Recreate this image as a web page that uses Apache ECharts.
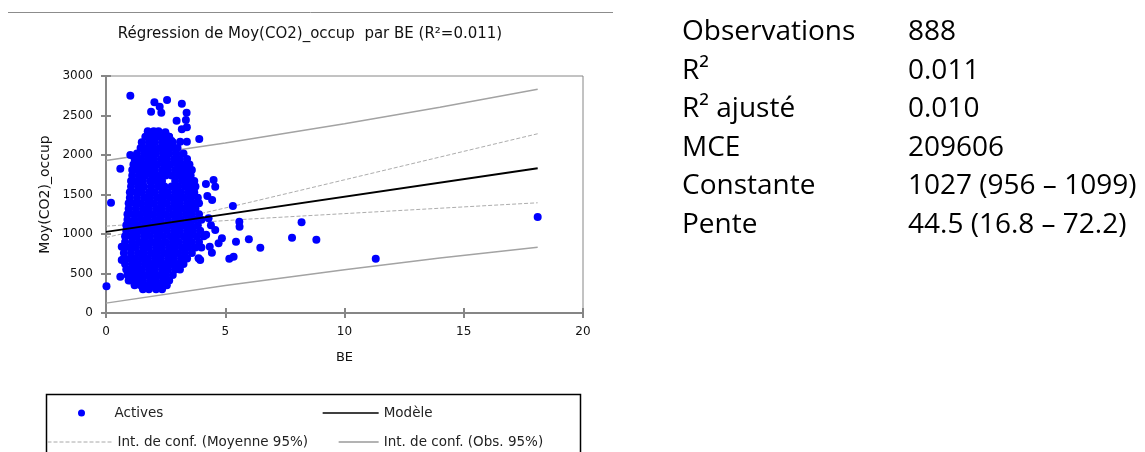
<!DOCTYPE html>
<html><head><meta charset="utf-8">
<script src="https://cdn.jsdelivr.net/npm/echarts@6/dist/echarts.min.js"></script>
<style>html,body{margin:0;padding:0;background:#fff}#c{width:1145px;height:452px}</style>
</head><body><div id="c"></div>
<script>
// ---------- data ----------
const chartTitle = 'Régression de Moy(CO2)_occup  par BE (R²=0.011)';
const xName = 'BE';
const yName = 'Moy(CO2)_occup';

// dense cloud of "Actives": one CO2 level per row, BE values in that row
const blobCO2 = [2300, 2230, 2160, 2090, 2020, 1950, 1880, 1810, 1740, 1670,
                 1600, 1530, 1460, 1390, 1320, 1250, 1180, 1110, 1040, 970,
                 900, 830, 760, 690, 620, 550, 480, 410, 350, 300];
const blobBE = [
  [1.75, 2.0, 2.2],
  [1.65, 1.9, 2.15, 2.4, 2.65],
  [1.5, 1.8, 2.05, 2.35, 2.6, 2.8],
  [1.45, 1.7, 1.95, 2.25, 2.5, 2.75, 3.0],
  [1.3, 1.6, 1.85, 2.1, 2.4, 2.65, 2.95, 3.25],
  [1.2, 1.45, 1.75, 2.0, 2.3, 2.55, 2.85, 3.1, 3.4],
  [1.15, 1.4, 1.65, 1.9, 2.15, 2.45, 2.7, 3.0, 3.25, 3.5],
  [1.1, 1.3, 1.55, 1.8, 2.05, 2.35, 2.6, 2.9, 3.15, 3.4, 3.6],
  [1.1, 1.4, 1.65, 1.95, 2.2, 2.5, 2.75, 3.05, 3.3, 3.55],
  [1.05, 1.3, 1.55, 1.85, 2.1, 2.35, 2.9, 3.2, 3.45, 3.7],
  [1.05, 1.35, 1.6, 1.9, 2.2, 2.45, 2.75, 3.0, 3.3, 3.55, 3.75],
  [1.0, 1.25, 1.5, 1.8, 2.05, 2.35, 2.6, 2.9, 3.15, 3.45, 3.7],
  [1.0, 1.3, 1.6, 1.85, 2.15, 2.4, 2.7, 3.0, 3.25, 3.55, 3.85],
  [0.95, 1.2, 1.45, 1.75, 2.0, 2.3, 2.55, 2.85, 3.1, 3.4, 3.65, 3.9],
  [0.95, 1.25, 1.55, 1.8, 2.1, 2.35, 2.65, 2.95, 3.2, 3.5, 3.75],
  [0.9, 1.15, 1.4, 1.7, 1.95, 2.25, 2.5, 2.8, 3.05, 3.35, 3.6, 3.9],
  [0.9, 1.2, 1.5, 1.75, 2.05, 2.3, 2.6, 2.9, 3.15, 3.45, 3.7, 4.0],
  [0.85, 1.1, 1.35, 1.65, 1.9, 2.2, 2.45, 2.75, 3.0, 3.3, 3.55, 3.85],
  [0.85, 1.15, 1.45, 1.7, 2.0, 2.25, 2.55, 2.85, 3.1, 3.4, 3.65, 3.95],
  [0.8, 1.05, 1.3, 1.6, 1.85, 2.15, 2.4, 2.7, 2.95, 3.25, 3.5, 3.8, 4.1],
  [0.8, 1.1, 1.4, 1.65, 1.95, 2.2, 2.5, 2.8, 3.05, 3.35, 3.6, 3.9],
  [0.75, 1.0, 1.25, 1.55, 1.8, 2.1, 2.35, 2.65, 2.9, 3.2, 3.45, 3.75, 4.0],
  [0.75, 1.05, 1.35, 1.6, 1.9, 2.15, 2.45, 2.75, 3.0, 3.3, 3.6],
  [0.75, 1.0, 1.2, 1.5, 1.75, 2.05, 2.3, 2.6, 2.85, 3.15, 3.4],
  [0.8, 1.1, 1.35, 1.65, 1.9, 2.2, 2.45, 2.75, 3.0, 3.25],
  [0.85, 1.0, 1.25, 1.5, 1.8, 2.05, 2.35, 2.6, 2.9, 3.1],
  [0.9, 1.15, 1.4, 1.7, 1.95, 2.25, 2.5, 2.8],
  [0.95, 1.05, 1.3, 1.55, 1.85, 2.1, 2.4, 2.65],
  [1.2, 1.45, 1.7, 2.0, 2.25, 2.55],
  [1.55, 1.8, 2.1, 2.35]
];
// isolated "Actives" points [BE, CO2]
const outliers = [
  [1.02,2751],[2.03,2667],[2.56,2696],[3.18,2650],[2.25,2612],[1.89,2549],[2.32,2536],
  [3.38,2536],[3.35,2443],[2.96,2435],[3.18,2325],[3.39,2350],[3.91,2203],[2.74,2181],
  [1.87,2274],[2.04,2287],[2.49,2287],[2.64,2232],[3.11,2169],[3.39,2169],[1.02,2000],
  [0.6,1825],[0.21,1397],[0.02,340],[1.09,1658],[4.51,1684],[4.58,1599],[4.19,1633],
  [4.25,1480],[4.45,1430],[5.32,1354],[5.59,1156],[5.6,1093],[5.45,903],[5.99,932],
  [6.47,827],[5.35,713],[5.17,688],[4.58,1051],[4.86,945],[4.72,882],[4.44,764],
  [3.88,692],[3.95,671],[4.3,1200],[4.4,1110],[4.2,990],[4.35,840],[0.66,840],
  [0.66,670],[0.6,460],[7.8,953],[8.2,1148],[8.82,928],[11.31,688],[18.1,1215]
];
// model line and confidence bands [BE, CO2]
const model = [[0,1027],[18.1,1832]];
const meanUpper = [[0,1099],[1,1120],[2.35,1162],[4,1260],[6,1399],[8,1542],[10,1686],[12,1830],[14,1974],[16,2118],[18.1,2269]];
const meanLower = [[0,955],[1,1024],[2.35,1102],[4,1150],[6,1189],[8,1224],[10,1258],[12,1292],[14,1326],[16,1360],[18.1,1395]];
const obsUpper = [[0,1929],[5,2152],[10,2396],[14,2605],[18.1,2831]];
const obsLower = [[0,125],[5,348],[10,548],[14,695],[18.1,833]];

// statistics table
const statLabels = ['Observations', 'R²', 'R² ajusté', 'MCE', 'Constante', 'Pente'];
const statValues = ['888', '0.011', '0.010', '209606', '1027 (956 – 1099)', '44.5 (16.8 – 72.2)'];

const legendNames = ['Actives', 'Modèle', 'Int. de conf. (Moyenne 95%)', 'Int. de conf. (Obs. 95%)'];

// ---------- build ----------
const actives = [];
blobCO2.forEach((c, i) => blobBE[i].forEach(b => actives.push([b, c])));
outliers.forEach(p => actives.push(p));

const F = '"DejaVu Sans", sans-serif';
const GRAY = '#868686';

const graphics = [
  {type:'line', shape:{x1:8, y1:12.5, x2:613, y2:12.5}, style:{stroke:'#8c8c8c', lineWidth:1}},
  {type:'text', x:310, y:34, style:{text:chartTitle, font:'15px ' + F, fill:'#111', align:'center', verticalAlign:'middle'}},
  {type:'rect', shape:{x:46.5, y:394.5, width:534, height:80}, style:{fill:'none', stroke:'#000', lineWidth:1.5}, z:0}
];
statLabels.forEach((t, i) => {
  const y = 32 + i * 38.6;
  graphics.push({type:'text', x:682, y:y, style:{text:t, font:'28px "Open Sans", sans-serif', fill:'#000', verticalAlign:'middle'}});
  graphics.push({type:'text', x:908, y:y, style:{text:statValues[i], font:'28px "Open Sans", sans-serif', fill:'#000', verticalAlign:'middle'}});
});

const legendText = {color:'#222', fontFamily:F, fontSize:13.5, lineHeight:14};
function mkLegend(name, left, top, w, lineStyle) {
  const l = {show:true, data:[name], left:left, top:top, itemWidth:w, itemHeight:7, padding:0,
          selectedMode:false, textStyle:legendText, symbolKeepAspect:true};
  if (lineStyle) { l.itemStyle = {opacity:0}; l.lineStyle = lineStyle; }
  return l;
}

const axisLabel = {color:'#111', fontFamily:F, fontSize:12, formatter: v => String(v)};
const chart = echarts.init(document.getElementById('c'));
chart.setOption({
  animation:false,
  backgroundColor:'#fff',
  grid:{left:106, top:76, width:477, height:237, show:true, borderColor:GRAY, borderWidth:1, containLabel:false},
  xAxis:[
    {type:'value', min:0, max:20, interval:5, position:'bottom',
     axisLine:{show:true, lineStyle:{color:GRAY, width:2}},
     axisTick:{show:true, length:5, lineStyle:{color:GRAY, width:2}},
     axisLabel:Object.assign({margin:13}, axisLabel),
     splitLine:{show:false},
     name:xName, nameLocation:'middle', nameGap:38,
     nameTextStyle:{color:'#111', fontFamily:F, fontSize:13}},
    {type:'value', min:0, max:20, interval:5, position:'bottom',
     axisLine:{show:false}, axisLabel:{show:false}, splitLine:{show:false},
     axisTick:{show:true, inside:true, length:5, lineStyle:{color:GRAY, width:2}}}
  ],
  yAxis:[
    {type:'value', min:0, max:3000, interval:500, position:'left',
     axisLine:{show:true, lineStyle:{color:GRAY, width:2}},
     axisTick:{show:true, length:5, lineStyle:{color:GRAY, width:2}},
     axisLabel:Object.assign({margin:13}, axisLabel),
     splitLine:{show:false},
     name:yName, nameLocation:'middle', nameGap:54,
     nameTextStyle:{color:'#111', fontFamily:F, fontSize:14}},
    {type:'value', min:0, max:3000, interval:500, position:'left',
     axisLine:{show:false}, axisLabel:{show:false}, splitLine:{show:false},
     axisTick:{show:true, inside:true, length:5, lineStyle:{color:GRAY, width:2}}}
  ],
  legend:[
    mkLegend(legendNames[0], 78, 406, 56, null),
    mkLegend(legendNames[1], 322, 406, 56, {color:'#000', width:1.3, opacity:1}),
    mkLegend(legendNames[2], 47, 435, 65, {color:'#a8a8a8', width:1, type:[4,2], opacity:1}),
    mkLegend(legendNames[3], 338, 435, 40, {color:'#9a9a9a', width:1.3, opacity:1})
  ],
  tooltip:{show:false},
  graphic:graphics,
  series:[
    {type:'line', name:legendNames[3], data:obsUpper, symbol:'none', silent:true, z:1,
     lineStyle:{color:'#a3a3a3', width:1.5}, itemStyle:{color:'#a3a3a3'}},
    {type:'line', name:legendNames[3], data:obsLower, symbol:'none', silent:true, z:1,
     lineStyle:{color:'#a3a3a3', width:1.5}, itemStyle:{color:'#a3a3a3'}},
    {type:'line', name:legendNames[2], data:meanUpper, symbol:'none', silent:true, z:1,
     lineStyle:{color:'#adadad', width:1, type:[4,2]}, itemStyle:{color:'#adadad'}},
    {type:'line', name:legendNames[2], data:meanLower, symbol:'none', silent:true, z:1,
     lineStyle:{color:'#adadad', width:1, type:[4,2]}, itemStyle:{color:'#adadad'}},
    {type:'scatter', name:legendNames[0], data:actives, symbol:'circle', symbolSize:8, silent:true, z:3,
     itemStyle:{color:'#0000ff', opacity:1}},
    {type:'line', name:legendNames[1], data:model, symbol:'none', silent:true, z:4,
     lineStyle:{color:'#000', width:2}, itemStyle:{color:'#000'}}
  ]
});
</script>
</body></html>
